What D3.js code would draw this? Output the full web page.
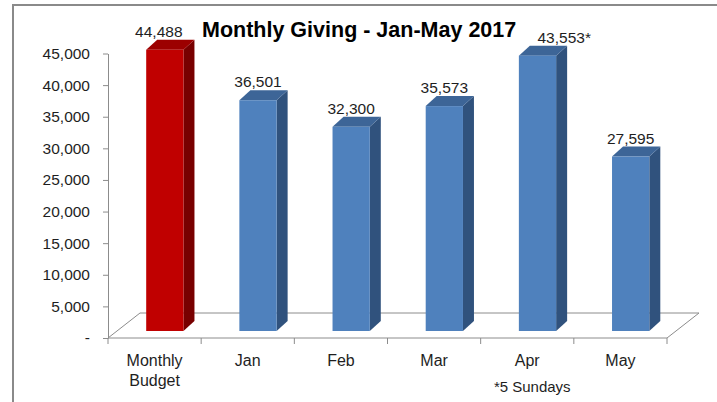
<!DOCTYPE html>
<html>
<head>
<meta charset="utf-8">
<script src="https://cdn.jsdelivr.net/npm/d3@7"></script>
<style>
  body { margin: 0; background: #fff; }
  svg { display: block; font-family: "Liberation Sans", Arial, sans-serif; }
</style>
</head>
<body>
<svg id="chart" width="717" height="402"></svg>
<script>
// chart data
const title = "Monthly Giving - Jan-May 2017";
const categories = ["Monthly Budget", "Jan", "Feb", "Mar", "Apr", "May"];
const values = [44488, 36501, 32300, 35573, 43553, 27595];
const valueLabels = ["44,488", "36,501", "32,300", "35,573", "43,553*", "27,595"];
const yTicks = [0, 5000, 10000, 15000, 20000, 25000, 30000, 35000, 40000, 45000];
const footnote = "*5 Sundays";

const svg = d3.select("#chart");

// plot geometry
const plot = { left: 108, right: 667, top: 53.5, bottom: 338 };
const floorDepth = { dx: 32, dy: -25 };
const barDepth = { dx: 11, dy: -10 };
const barLift = 7; // bars stand slightly back on the floor

const palette = {
  budget: { front: "#C00000", top: "#9C0000", side: "#780000" },
  month: { front: "#4F81BD", top: "#3D6597", side: "#30527D" }
};
const axisGrey = "#8C8C8C";
const textColor = "#1E1E1E";
const labelSize = "15.5px";

// outer frame (only top and left are visible in the crop)
svg.append("rect")
  .attr("x", 13).attr("y", 5)
  .attr("width", 740).attr("height", 420)
  .attr("fill", "none")
  .attr("stroke", "#8A8A8A")
  .attr("stroke-width", 2);

const x = d3.scaleBand()
  .domain(categories)
  .range([plot.left, plot.right])
  .padding(0);

const y = d3.scaleLinear()
  .domain([0, 45000])
  .range([plot.bottom, plot.top]);

// floor
const y0 = y(0);
svg.append("path")
  .attr("d", d3.line()([
    [plot.left, y0],
    [plot.left + floorDepth.dx, y0 + floorDepth.dy],
    [plot.right + floorDepth.dx, y0 + floorDepth.dy],
    [plot.right, y0],
    [plot.left, y0]
  ]))
  .attr("fill", "none")
  .attr("stroke", axisGrey)
  .attr("stroke-width", 1);

// y axis
const yAxis = svg.append("g")
  .attr("transform", `translate(${plot.left},0)`)
  .call(d3.axisLeft(y)
    .tickValues(yTicks)
    .tickSize(5)
    .tickSizeOuter(0)
    .tickPadding(13)
    .tickFormat(d => d === 0 ? "-" : d3.format(",")(d)));

yAxis.selectAll("path, line").attr("stroke", axisGrey);
yAxis.selectAll("text")
  .attr("fill", textColor)
  .style("font-size", labelSize)
  .style("font-family", "'Liberation Sans', Arial, sans-serif");

// x axis boundary ticks
const bw = x.bandwidth();
const boundaries = categories.map(c => x(c)).concat([x.range()[1]]);
svg.append("g")
  .selectAll("line")
  .data(boundaries)
  .join("line")
  .attr("x1", d => d).attr("x2", d => d)
  .attr("y1", y0).attr("y2", y0 + 6)
  .attr("stroke", axisGrey);

// category labels
const catLabels = svg.append("g")
  .selectAll("text")
  .data(categories)
  .join("text")
  .attr("text-anchor", "middle")
  .attr("fill", textColor)
  .style("font-size", "16px");

catLabels.each(function(d) {
  const words = d.split(" ");
  const t = d3.select(this);
  words.forEach((w, i) => {
    t.append("tspan")
      .attr("x", x(d) + bw / 2)
      .attr("y", 366 + i * 20)
      .text(w);
  });
});

// footnote under Apr
svg.append("text")
  .attr("x", x("Apr") + bw / 2 + 5)
  .attr("y", 392)
  .attr("text-anchor", "middle")
  .attr("fill", textColor)
  .style("font-size", "15px")
  .text(footnote);

// 3D bars
const bars = categories.map((c, i) => {
  const fw = bw * 0.40;
  const fx = x(c) + bw * 0.41;
  const top = y(values[i]) - barLift;
  const bottom = y0 - barLift;
  return { c, i, fx, fw, top, bottom, col: i === 0 ? palette.budget : palette.month };
});

const barG = svg.append("g")
  .selectAll("g")
  .data(bars)
  .join("g");

barG.append("path")
  .attr("d", b => d3.line()([
    [b.fx + b.fw, b.top],
    [b.fx + b.fw + barDepth.dx, b.top + barDepth.dy],
    [b.fx + b.fw + barDepth.dx, b.bottom + barDepth.dy],
    [b.fx + b.fw, b.bottom]
  ]) + "Z")
  .attr("fill", b => b.col.side);

barG.append("path")
  .attr("d", b => d3.line()([
    [b.fx, b.top],
    [b.fx + barDepth.dx, b.top + barDepth.dy],
    [b.fx + b.fw + barDepth.dx, b.top + barDepth.dy],
    [b.fx + b.fw, b.top]
  ]) + "Z")
  .attr("fill", b => b.col.top);

barG.append("rect")
  .attr("x", b => b.fx)
  .attr("y", b => b.top)
  .attr("width", b => b.fw)
  .attr("height", b => b.bottom - b.top)
  .attr("fill", b => b.col.front);

// value labels
barG.append("text")
  .attr("x", b => {
    const cx = b.fx + b.fw / 2;
    return b.i === 0 ? cx - 6 : cx;
  })
  .attr("y", b => b.top - 13)
  .attr("text-anchor", b => valueLabels[b.i].endsWith("*") ? "start" : "middle")
  .attr("fill", textColor)
  .style("font-size", labelSize)
  .text(b => valueLabels[b.i]);

// title
svg.append("text")
  .attr("x", 202)
  .attr("y", 37)
  .attr("fill", "#000")
  .style("font-size", "21.5px")
  .style("font-weight", "bold")
  .text(title);
</script>
</body>
</html>
